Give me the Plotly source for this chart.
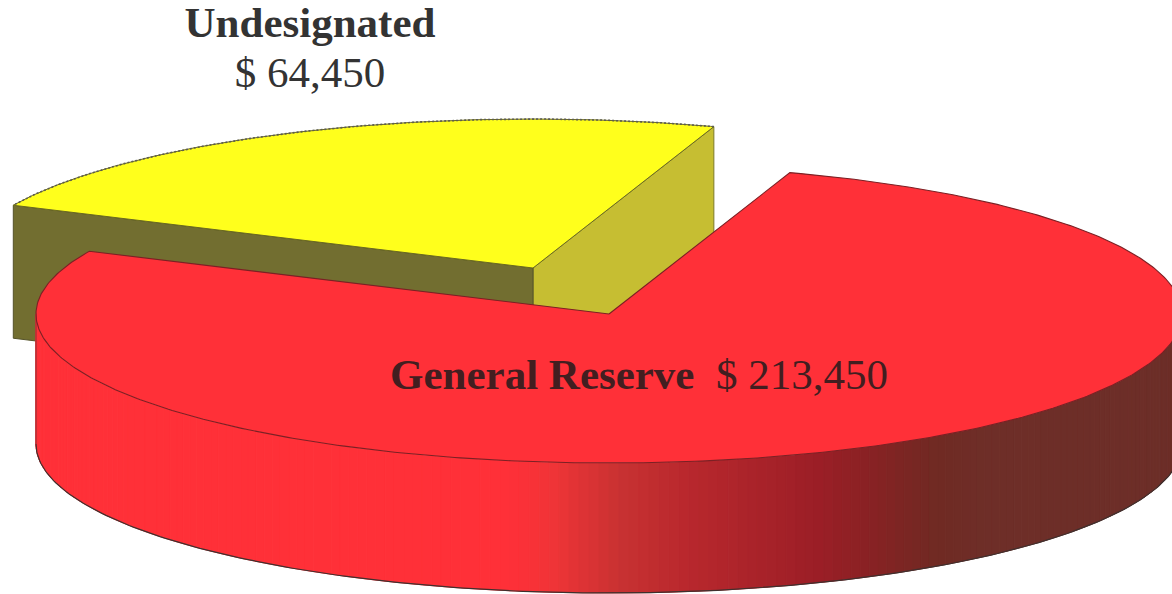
import numpy as np
import plotly.graph_objects as go

# Reserve balances shown on the pie
categories = ["Undesignated", "General Reserve"]
values = [64450, 213450]

# Pie geometry on a pixel-sized canvas
W, H = 1172, 594
CX, CY = 609, 314
RX, RY = 573, 149
DEPTH = 130
YELLOW_DEPTH = 133
EXPLODE = (-76, -46)
START_DEG = 71.6

YELLOW_TOP = "#ffff1c"
YELLOW_LIT = "#c6be32"
YELLOW_DARK = "#726e30"
RED_TOP = "#ff3038"

# Shading of the red rim, left to right
SHADE_X = [0, 510, 553, 620, 687, 753, 820, 887, 937, 987, 1200]
SHADE_R = [255, 255, 240, 200, 185, 170, 155, 130, 112, 110, 108]
SHADE_G = [48, 48, 52, 50, 40, 35, 30, 35, 42, 46, 46]
SHADE_B = [56, 56, 55, 50, 45, 42, 38, 35, 35, 40, 40]


def rim(a0, a1, cx=CX, cy=CY, n=240):
    t = np.radians(np.linspace(a0, a1, n))
    return cx + RX * np.cos(t), cy - RY * np.sin(t)


def polygon(x, y, fill, line=None, width=1.0):
    return go.Scatter(
        x=list(x), y=list(y), mode="lines", fill="toself", fillcolor=fill,
        line=dict(color=line or fill, width=width), hoverinfo="skip",
    )


def outline(x, y, color, width=1.0, dash="solid"):
    return go.Scatter(
        x=list(x), y=list(y), mode="lines",
        line=dict(color=color, width=width, dash=dash), hoverinfo="skip",
    )


total = sum(values)
sweep = 360 * values[0] / total
end_deg = START_DEG + sweep

fig = go.Figure()

# Pulled-out yellow wedge: two cut walls, then its top face
ycx, ycy = CX + EXPLODE[0], CY + EXPLODE[1]
ax, ay = rim(START_DEG, end_deg, ycx, ycy)
fig.add_trace(polygon(
    [ycx, ax[0], ax[0], ycx, ycx],
    [ycy, ay[0], ay[0] + YELLOW_DEPTH, ycy + YELLOW_DEPTH, ycy],
    YELLOW_LIT, "#7c7a2c",
))
fig.add_trace(polygon(
    [ycx, ax[-1], ax[-1], ycx, ycx],
    [ycy, ay[-1], ay[-1] + YELLOW_DEPTH, ycy + YELLOW_DEPTH, ycy],
    YELLOW_DARK, "#55532a",
))
fig.add_trace(polygon(
    np.r_[ycx, ax, ycx], np.r_[ycy, ay, ycy], YELLOW_TOP, "#6b6a20",
))
fig.add_trace(outline(ax, ay, "#5c5c50", 1.6, "2px,2px"))

# Red rim built from narrow shaded strips
edges = np.linspace(180, 360, 181)
for a, b in zip(edges[:-1], edges[1:]):
    sx, sy = rim(a, b, n=4)
    mid = sx.mean()
    shade = "rgb({:.0f},{:.0f},{:.0f})".format(
        np.interp(mid, SHADE_X, SHADE_R),
        np.interp(mid, SHADE_X, SHADE_G),
        np.interp(mid, SHADE_X, SHADE_B),
    )
    fig.add_trace(polygon(
        np.r_[sx, sx[::-1], sx[0]],
        np.r_[sy, sy[::-1] + DEPTH, sy[0]],
        shade, shade, 1.0,
    ))

# Outer contour of the rim
bx, by = rim(180, 360)
fig.add_trace(outline(bx, by + DEPTH, "#40302e", 1.2))
fig.add_trace(outline([bx[0], bx[0]], [by[0], by[0] + DEPTH], "#8a3034", 1.0))

# Red top face
rx, ry = rim(end_deg, START_DEG + 360, n=480)
fig.add_trace(polygon(
    np.r_[CX, rx, CX], np.r_[CY, ry, CY], RED_TOP, "#7c2024", 1.1,
))

# Labels, with the amounts taken from the same values as the slices
LABEL_FONT = "Liberation Serif"
fig.add_trace(go.Scatter(
    x=[310, 310], y=[26, 76], mode="text",
    text=[f"<b>{categories[0]}</b>", f"$ {values[0]:,}"],
    textposition="middle center",
    textfont=dict(family=LABEL_FONT, size=43, color="#333333"),
    hoverinfo="skip", cliponaxis=False,
))
fig.add_trace(go.Scatter(
    x=[639], y=[378], mode="text",
    text=[f"<b>{categories[1]}</b>\u00a0\u00a0$ {values[1]:,}"],
    textposition="middle center",
    textfont=dict(family=LABEL_FONT, size=43, color="#421e20"),
    hoverinfo="skip", cliponaxis=False,
))

fig.update_layout(
    width=W, height=H, autosize=False,
    margin=dict(l=0, r=0, t=0, b=0),
    paper_bgcolor="white", plot_bgcolor="white",
    showlegend=False, hovermode=False,
    xaxis=dict(range=[0, W], visible=False, fixedrange=True),
    yaxis=dict(range=[H, 0], visible=False, fixedrange=True),
)

fig.write_html("out.html", config=dict(displayModeBar=False))
